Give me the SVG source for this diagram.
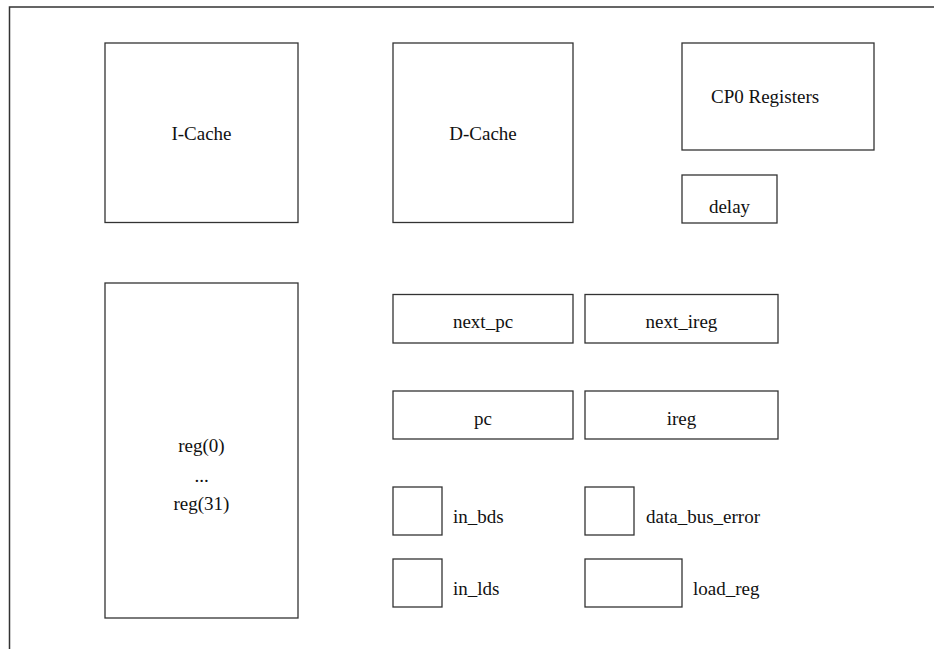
<svg xmlns="http://www.w3.org/2000/svg" width="934" height="649" viewBox="0 0 934 649">
<style>
.b{fill:#fff;stroke:#333;stroke-width:1.3}
.t{font-family:"Liberation Serif","Times New Roman",serif;font-size:19px;fill:#111}
.m{text-anchor:middle}
.frame{fill:none;stroke:#333;stroke-width:1.5}
</style>
<rect width="934" height="649" fill="#fff"/>
<path class="frame" d="M9.5,649 V7 H934"/>
<g id="icache"><rect class="b" x="105" y="43" width="193" height="179.5"/><text class="t m" x="201.5" y="140">I-Cache</text></g>
<g id="dcache"><rect class="b" x="393" y="43" width="180" height="179.5"/><text class="t m" x="483" y="140">D-Cache</text></g>
<g id="cp0"><rect class="b" x="682" y="43" width="192" height="107"/><text class="t" x="711" y="103">CP0 Registers</text></g>
<g id="delay"><rect class="b" x="682" y="175" width="95" height="48"/><text class="t m" x="729.5" y="213">delay</text></g>
<g id="regs"><rect class="b" x="105" y="283" width="193" height="335"/><text class="t m" x="201.5" y="452">reg(0)</text><text class="t m" x="201.5" y="482">...</text><text class="t m" x="201.5" y="510">reg(31)</text></g>
<g id="next_pc"><rect class="b" x="393" y="294.5" width="180" height="48.5"/><text class="t m" x="483" y="328">next_pc</text></g>
<g id="next_ireg"><rect class="b" x="585" y="294.5" width="193" height="48.5"/><text class="t m" x="681.5" y="328">next_ireg</text></g>
<g id="pc"><rect class="b" x="393" y="391" width="180" height="48"/><text class="t m" x="483" y="425">pc</text></g>
<g id="ireg"><rect class="b" x="585" y="391" width="193" height="48"/><text class="t m" x="681.5" y="425">ireg</text></g>
<g id="in_bds"><rect class="b" x="393" y="487" width="49" height="48"/><text class="t" x="453" y="523">in_bds</text></g>
<g id="data_bus_error"><rect class="b" x="585" y="487" width="49" height="48"/><text class="t" x="646" y="523">data_bus_error</text></g>
<g id="in_lds"><rect class="b" x="393" y="559" width="49" height="48"/><text class="t" x="453" y="595">in_lds</text></g>
<g id="load_reg"><rect class="b" x="585" y="559" width="97" height="48"/><text class="t" x="693" y="595">load_reg</text></g>
<g id="connectors"></g>
</svg>
